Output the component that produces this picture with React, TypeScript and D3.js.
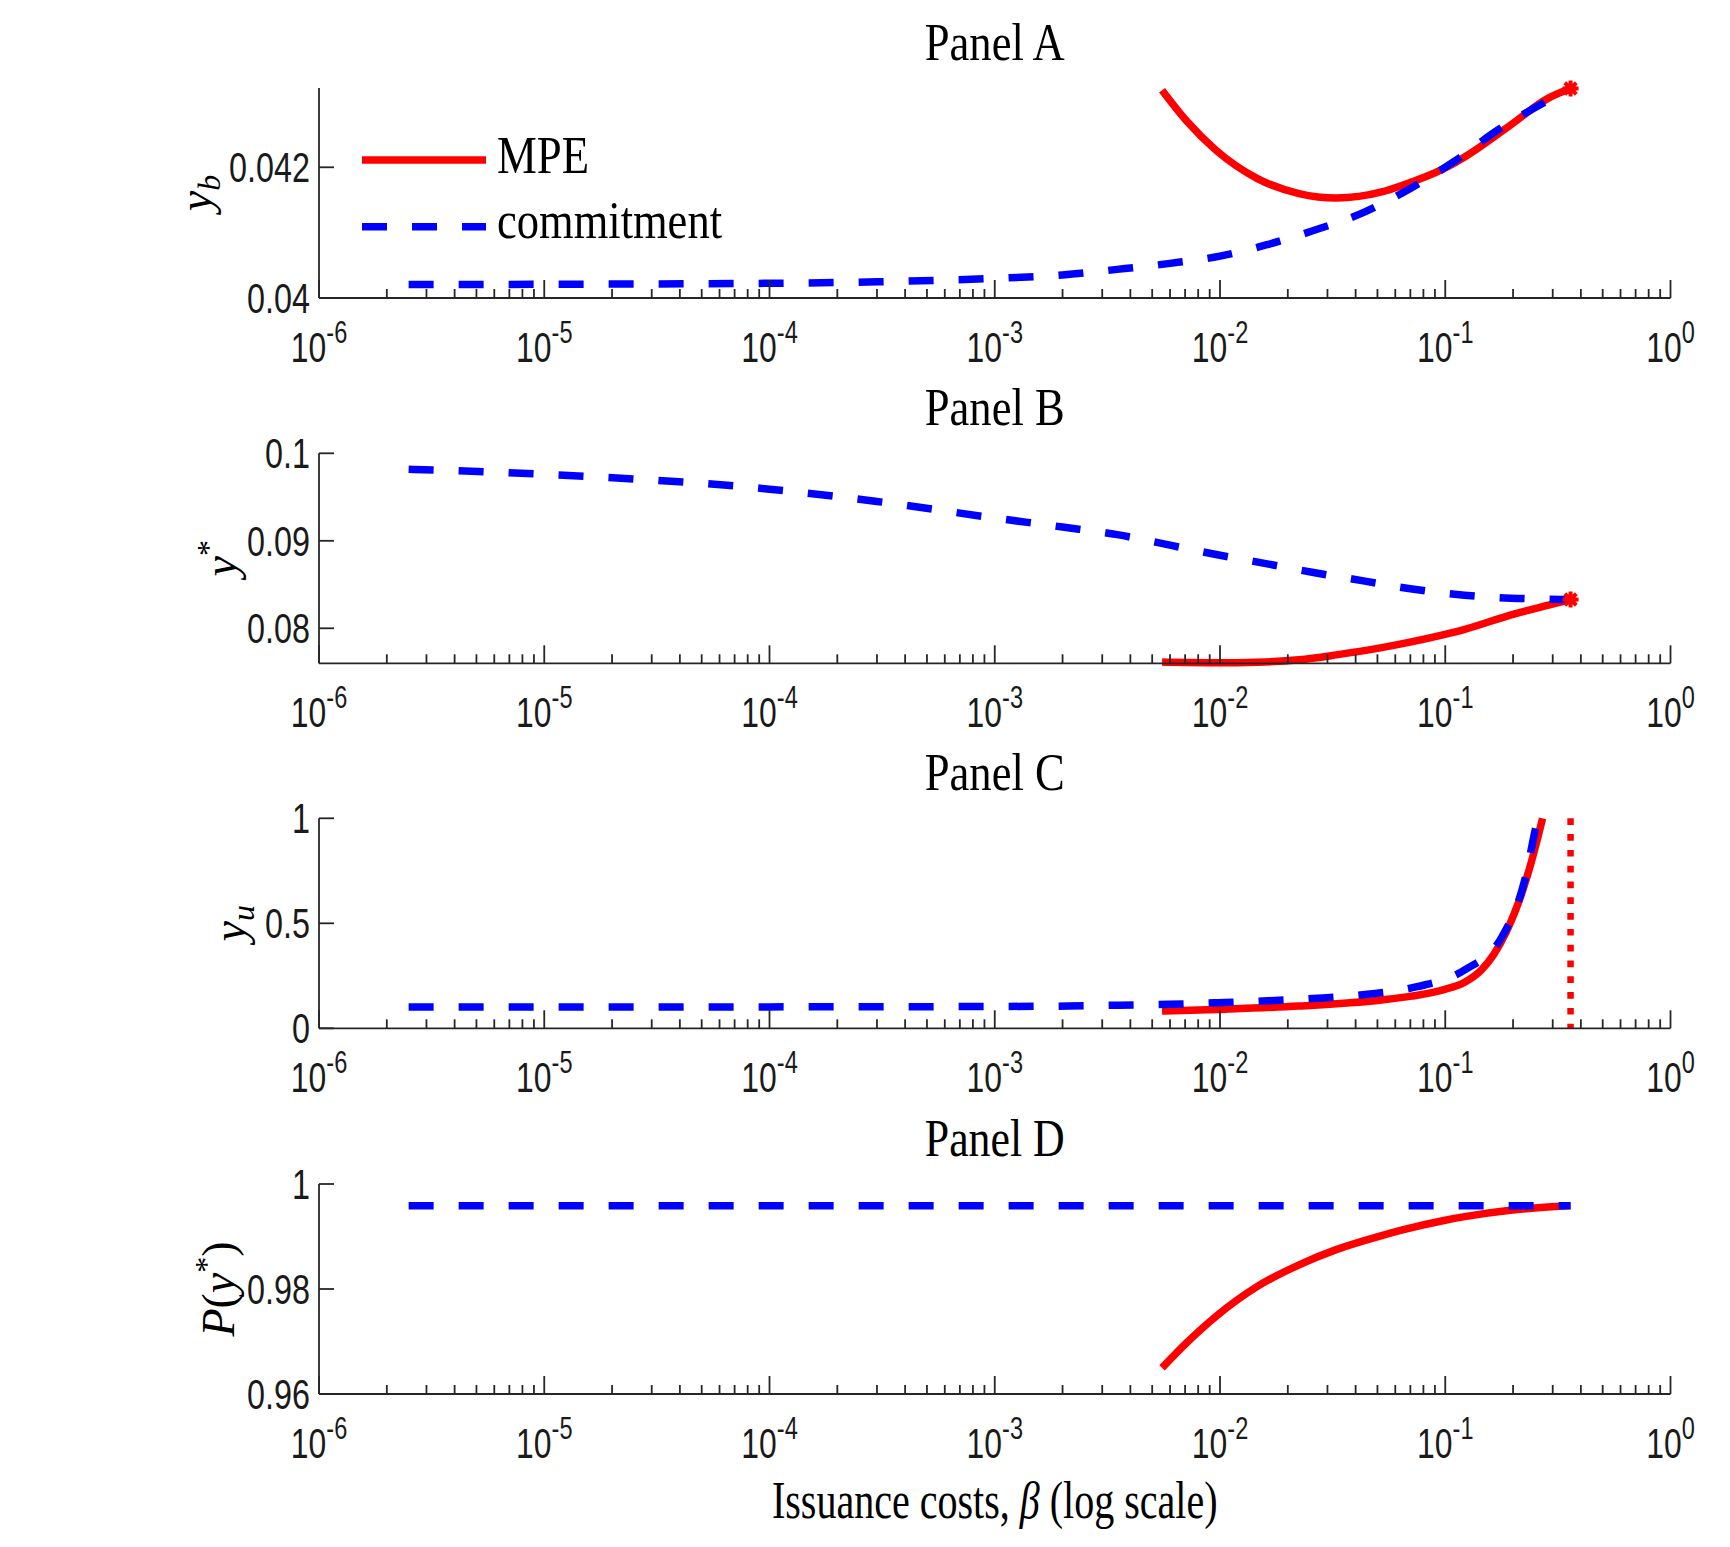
import React from "react";
import * as d3 from "d3";

// Issuance costs (β) at which each solution is evaluated
const commitmentBeta = [2.5e-6, 1e-5, 1e-4, 3e-4, 1e-3, 2e-3, 3.5e-3, 6e-3, 1e-2, 1.6e-2, 2.6e-2, 4.4e-2, 7e-2, 0.11, 0.17, 0.27, 0.36];
const mpeBeta = [0.00553, 0.00713, 0.0096, 0.01466, 0.02244, 0.0328, 0.0522, 0.0646, 0.0986, 0.122, 0.1945, 0.2844, 0.36];

// Panel A: y_b
const ybCommitment = [0.040205, 0.04021, 0.040225, 0.040248, 0.0403, 0.040352, 0.040438, 0.04053, 0.04064, 0.040811, 0.041032, 0.041318, 0.041677, 0.042093, 0.042563, 0.042975, 0.043205];
const ybMPE = [0.04318, 0.042704, 0.04226, 0.041827, 0.041598, 0.04153, 0.041622, 0.041725, 0.04198, 0.042158, 0.042643, 0.043051, 0.043205];

// Panel B: y*
const ystarCommitment = [0.09818, 0.0976, 0.0959, 0.0945, 0.0926, 0.09157, 0.0907, 0.0895, 0.08835, 0.08739, 0.08637, 0.08539, 0.08452, 0.0839, 0.08352, 0.08335, 0.08329];
const ystarMPE = [0.07615, 0.07608, 0.07605, 0.07612, 0.0764, 0.07696, 0.07779, 0.07825, 0.07928, 0.07988, 0.0815, 0.08262, 0.08329];

// Panel C: y_u (own β grids, both run up to y_u = 1)
const yuCommitmentBeta = [2.5e-6, 1e-5, 1e-4, 1e-3, 0.00213, 0.00354, 0.00589, 0.0098, 0.0163, 0.0271, 0.0451, 0.075, 0.122, 0.1786, 0.2254, 0.2559, 0.2582];
const yuCommitment = [0.101, 0.101, 0.102, 0.104, 0.106, 0.11, 0.114, 0.122, 0.131, 0.143, 0.162, 0.198, 0.278, 0.436, 0.706, 0.984, 1.0];
const yuMPEBeta = [0.00553, 0.0096, 0.02244, 0.0522, 0.0708, 0.0986, 0.122, 0.1445, 0.164, 0.1862, 0.2028, 0.2208, 0.2404, 0.2506, 0.2704];
const yuMPE = [0.082, 0.09, 0.106, 0.135, 0.153, 0.184, 0.219, 0.277, 0.351, 0.457, 0.548, 0.657, 0.787, 0.859, 1.0];
const betaThreshold = 0.36;

// Panel D: P(y*)
const pCommitment = [0.99588, 0.99588, 0.99588, 0.99588, 0.99588, 0.99588, 0.99588, 0.99588, 0.99588, 0.99588, 0.99588, 0.99588, 0.99588, 0.99588, 0.99588, 0.99588, 0.99588];
const pMPE = [0.96497, 0.9698, 0.97479, 0.98049, 0.98461, 0.9875, 0.99017, 0.99125, 0.99305, 0.99379, 0.995, 0.9956, 0.99588];

// Axis ticks
const xMajorTicks = [1e-6, 1e-5, 1e-4, 1e-3, 1e-2, 1e-1, 1];
const xTickExponents = ["-6", "-5", "-4", "-3", "-2", "-1", "0"];
const panelTitles = ["Panel A", "Panel B", "Panel C", "Panel D"];
const yTicksA = [0.04, 0.042];
const yTickLabelsA = ["0.04", "0.042"];
const yTicksB = [0.08, 0.09, 0.1];
const yTickLabelsB = ["0.08", "0.09", "0.1"];
const yTicksC = [0, 0.5, 1];
const yTickLabelsC = ["0", "0.5", "1"];
const yTicksD = [0.96, 0.98, 1];
const yTickLabelsD = ["0.96", "0.98", "1"];
const legendLabels = ["MPE", "commitment"];

const W = 1730;
const H = 1547;
const AXIS = "#262626";
const RED = "#ff0000";
const BLUE = "#0000ff";
const LEFT = 319;
const RIGHT = 1670.5;
const PANEL_H = 210;
const tops = [88, 453.3, 818.3, 1184];
const SANS = "'Liberation Sans', Arial, sans-serif";
const SERIF = "'Liberation Serif', 'Times New Roman', serif";
const LINE_W = 7.5;

const x = d3.scaleLog().domain([1e-6, 1]).range([LEFT, RIGHT]);

const minorTicks: number[] = [];
for (let e = -6; e < 0; e++) {
  for (let k = 2; k <= 9; k++) minorTicks.push(k * Math.pow(10, e));
}

type Series = { beta: number[]; values: number[]; color: string; dashed?: boolean };

function StarMarker({ cx, cy }: { cx: number; cy: number }) {
  const r = 8;
  const d = r * 0.72;
  return (
    <path
      d={`M${cx - r},${cy}L${cx + r},${cy}M${cx},${cy - r}L${cx},${cy + r}M${cx - d},${cy - d}L${cx + d},${cy + d}M${cx - d},${cy + d}L${cx + d},${cy - d}`}
      stroke={RED}
      strokeWidth={4}
      fill="none"
    />
  );
}

function Panel(props: {
  index: number;
  yDomain: [number, number];
  yTicks: number[];
  yTickLabels: string[];
  series: Series[];
  yLabel: React.ReactNode;
  yLabelX: number;
  stars?: number[];
  threshold?: number;
  legend?: boolean;
}) {
  const top = tops[props.index];
  const bottom = top + PANEL_H;
  const y = d3.scaleLinear().domain(props.yDomain).range([bottom, top]);
  const line = d3
    .line<[number, number]>()
    .x((d) => x(d[0]))
    .y((d) => y(d[1]))
    .curve(d3.curveMonotoneX);

  return (
    <g>
      {/* title */}
      <text
        x={(LEFT + RIGHT) / 2}
        y={top - 28}
        textAnchor="middle"
        fontFamily={SERIF}
        fontSize={52}
        textLength={140}
        lengthAdjust="spacingAndGlyphs"
        fill="#000"
      >
        {panelTitles[props.index]}
      </text>

      {/* series */}
      {props.series.map((s, i) => (
        <path
          key={i}
          d={line(s.beta.map((b, j) => [b, s.values[j]] as [number, number])) || ""}
          fill="none"
          stroke={s.color}
          strokeWidth={LINE_W}
          strokeDasharray={s.dashed ? "25 25" : undefined}
          strokeLinecap="butt"
          strokeLinejoin="round"
        />
      ))}

      {props.threshold !== undefined && (
        <line
          x1={x(props.threshold)}
          x2={x(props.threshold)}
          y1={top}
          y2={bottom}
          stroke={RED}
          strokeWidth={6.5}
          strokeDasharray="6.7 9.1"
        />
      )}

      {props.stars &&
        props.stars.map((v, i) => <StarMarker key={i} cx={x(betaThreshold)} cy={y(v)} />)}

      {/* axes */}
      <line x1={LEFT} x2={LEFT} y1={top} y2={bottom} stroke={AXIS} strokeWidth={1.8} />
      <line x1={LEFT} x2={RIGHT} y1={bottom} y2={bottom} stroke={AXIS} strokeWidth={1.8} />
      {minorTicks.map((t, i) => (
        <line key={"m" + i} x1={x(t)} x2={x(t)} y1={bottom} y2={bottom - 9} stroke={AXIS} strokeWidth={1.8} />
      ))}
      {xMajorTicks.map((t, i) => (
        <g key={"M" + i}>
          <line x1={x(t)} x2={x(t)} y1={bottom} y2={bottom - 18} stroke={AXIS} strokeWidth={1.8} />
          <g transform={`translate(${x(t)},${bottom + 64}) scale(0.76,1)`}>
            <text textAnchor="middle" fontFamily={SANS} fontSize={42} fill="#1a1a1a">
              <tspan>10</tspan>
              <tspan dy={-19} fontSize={31}>
                {xTickExponents[i]}
              </tspan>
            </text>
          </g>
        </g>
      ))}
      {props.yTicks.map((t, i) => (
        <g key={"y" + i}>
          <line x1={LEFT} x2={LEFT + 15} y1={y(t)} y2={y(t)} stroke={AXIS} strokeWidth={1.8} />
          <g transform={`translate(${LEFT - 9},${y(t) + 15}) scale(0.77,1)`}>
            <text textAnchor="end" fontFamily={SANS} fontSize={42} fill="#1a1a1a">
              {props.yTickLabels[i]}
            </text>
          </g>
        </g>
      ))}

      {/* y label */}
      <text
        transform={`translate(${props.yLabelX},${top + PANEL_H / 2}) rotate(-90)`}
        textAnchor="middle"
        fontFamily={SERIF}
        fontSize={46}
        fill="#000"
      >
        {props.yLabel}
      </text>

      {props.legend && (
        <g>
          <line x1={362} x2={486} y1={160} y2={160} stroke={RED} strokeWidth={LINE_W} />
          <text x={497} y={173} fontFamily={SERIF} fontSize={52} textLength={92} lengthAdjust="spacingAndGlyphs">
            {legendLabels[0]}
          </text>
          <line x1={362} x2={486} y1={226.7} y2={226.7} stroke={BLUE} strokeWidth={LINE_W} strokeDasharray="25 25" />
          <text x={497} y={238.3} fontFamily={SERIF} fontSize={52} textLength={225} lengthAdjust="spacingAndGlyphs">
            {legendLabels[1]}
          </text>
        </g>
      )}
    </g>
  );
}

export default function App() {
  return (
    <svg
      width={W}
      height={H}
      viewBox={`0 0 ${W} ${H}`}
      style={{ position: "absolute", left: 0, top: 0, background: "#fff" }}
    >
      <rect width={W} height={H} fill="#fff" />
      <Panel
        index={0}
        yDomain={[0.04, 0.043213]}
        yTicks={yTicksA}
        yTickLabels={yTickLabelsA}
        series={[
          { beta: mpeBeta, values: ybMPE, color: RED },
          { beta: commitmentBeta, values: ybCommitment, color: BLUE, dashed: true },
        ]}
        stars={[ybMPE[ybMPE.length - 1]]}
        yLabel={
          <>
            <tspan fontStyle="italic">y</tspan>
            <tspan fontStyle="italic" fontSize={32} dy={9}>
              b
            </tspan>
          </>
        }
        yLabelX={211}
        legend
      />
      <Panel
        index={1}
        yDomain={[0.076, 0.1]}
        yTicks={yTicksB}
        yTickLabels={yTickLabelsB}
        series={[
          { beta: mpeBeta, values: ystarMPE, color: RED },
          { beta: commitmentBeta, values: ystarCommitment, color: BLUE, dashed: true },
        ]}
        stars={[ystarMPE[ystarMPE.length - 1]]}
        yLabel={
          <>
            <tspan fontStyle="italic">y</tspan>
            <tspan fontSize={32} dy={-17}>
              *
            </tspan>
          </>
        }
        yLabelX={236}
      />
      <Panel
        index={2}
        yDomain={[0, 1]}
        yTicks={yTicksC}
        yTickLabels={yTickLabelsC}
        series={[
          { beta: yuMPEBeta, values: yuMPE, color: RED },
          { beta: yuCommitmentBeta, values: yuCommitment, color: BLUE, dashed: true },
        ]}
        threshold={betaThreshold}
        yLabel={
          <>
            <tspan fontStyle="italic">y</tspan>
            <tspan fontStyle="italic" fontSize={32} dy={9}>
              u
            </tspan>
          </>
        }
        yLabelX={245}
      />
      <Panel
        index={3}
        yDomain={[0.96, 1]}
        yTicks={yTicksD}
        yTickLabels={yTickLabelsD}
        series={[
          { beta: mpeBeta, values: pMPE, color: RED },
          { beta: commitmentBeta, values: pCommitment, color: BLUE, dashed: true },
        ]}
        yLabel={
          <>
            <tspan fontStyle="italic">P</tspan>
            <tspan>(</tspan>
            <tspan fontStyle="italic">y</tspan>
            <tspan fontSize={32} dy={-17}>
              *
            </tspan>
            <tspan dy={17}>)</tspan>
          </>
        }
        yLabelX={234}
      />
      {/* shared x-axis label */}
      <g transform={`translate(${(LEFT + RIGHT) / 2},1518) scale(0.77,1)`}>
        <text textAnchor="middle" fontFamily={SERIF} fontSize={52} fill="#000">
          <tspan>Issuance costs, </tspan>
          <tspan fontStyle="italic">β</tspan>
          <tspan> (log scale)</tspan>
        </text>
      </g>
    </svg>
  );
}
